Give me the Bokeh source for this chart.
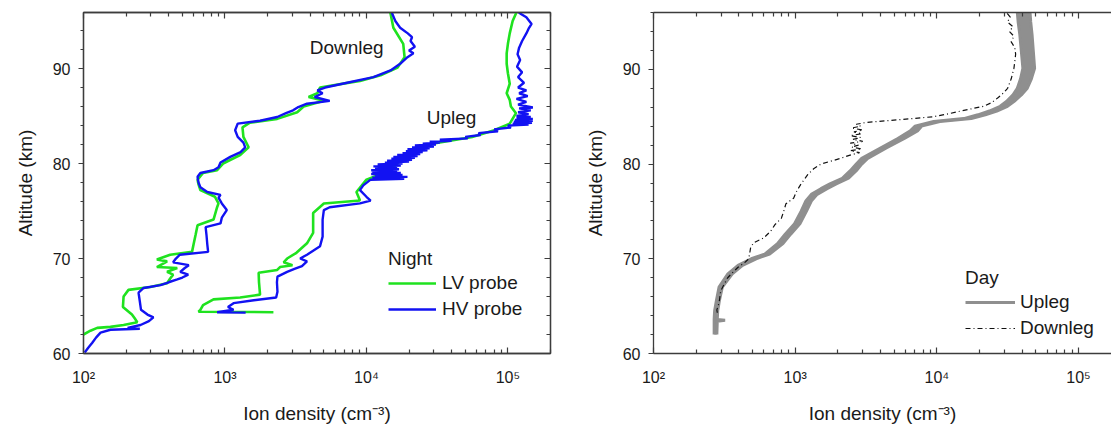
from bokeh.plotting import figure
from bokeh.layouts import row
from bokeh.models import (Range1d, FixedTicker, LogAxis, LinearAxis, CustomJSTickFormatter,
                          Legend, LegendItem, Label, ColumnDataSource)
from bokeh.embed import file_html
from bokeh.resources import INLINE

# ---------------- Night flight (altitude km, ion density cm^-3) ----------------
night_down_hv = [
    (60.1, 102), (60.6, 108), (61.1, 115), (61.7, 123), (62.2, 132), (62.5, 155), (62.6, 250),
    (62.7, 205), (63.0, 253), (63.4, 290), (63.8, 312), (64.1, 283), (64.6, 255), (65.5, 250),
    (66.4, 245), (66.9, 266), (67.2, 350), (67.5, 400), (67.8, 460), (68.0, 500), (68.3, 550),
    (68.6, 483), (69.0, 520), (69.3, 555), (69.6, 430), (70.0, 450), (70.4, 480), (70.7, 760),
    (71.5, 750), (72.5, 740), (73.3, 730), (73.7, 930), (74.3, 950), (75.1, 1030), (75.8, 950),
    (76.4, 900), (76.7, 930), (77.0, 750), (77.5, 670), (78.0, 650), (78.6, 640), (79.0, 670),
    (79.3, 830), (79.6, 900), (80.1, 930), (80.7, 1090), (81.2, 1290), (81.7, 1390), (82.2, 1350),
    (82.8, 1230), (83.5, 1180), (84.2, 1230), (84.5, 1770), (84.9, 2340), (85.3, 2700),
    (85.6, 3030), (85.95, 3300), (86.3, 3800), (86.6, 5500), (87.0, 4300), (87.4, 4900),
    (87.7, 4500), (88.0, 5100), (88.5, 7300), (89.1, 11200), (89.8, 14800), (90.5, 17300),
    (91.2, 19500), (91.6, 21500), (91.9, 20000), (92.3, 22000), (92.9, 20500), (93.3, 21000),
    (93.7, 19600), (94.3, 17300), (95.0, 16000), (95.8, 15200), (96.0, 15000),
]
night_down_lv = [
    (62.0, 100), (62.4, 112), (62.7, 125), (62.8, 155), (63.0, 192), (63.3, 240), (63.7, 230),
    (64.1, 220), (64.9, 190), (66.0, 192), (66.7, 208), (67.0, 297), (67.4, 390), (67.9, 410),
    (68.3, 430), (68.6, 390), (69.0, 460), (69.1, 330), (69.4, 360), (69.7, 390), (69.9, 330),
    (70.4, 410), (70.7, 585), (71.5, 600), (72.5, 620), (73.5, 640), (74.1, 830), (75.4, 880),
    (75.8, 900), (76.5, 850), (77.2, 670), (77.8, 650), (78.3, 640), (79.0, 700), (79.3, 880),
    (80.0, 970), (80.9, 1280), (81.7, 1470), (82.8, 1350), (83.8, 1330), (84.3, 1500),
    (84.7, 2340), (85.4, 3240), (86.0, 3600), (86.6, 5000), (87.0, 3900), (87.4, 4500),
    (88.0, 4700), (88.7, 9000), (89.3, 12600), (90.1, 16600), (91.2, 18600), (92.6, 18200),
    (94.3, 15500), (95.8, 14800), (96.0, 14600),
]
night_up_hv = [
    (64.3, 1400), (64.35, 880), (64.6, 1150), (64.9, 1050), (65.3, 1150), (65.6, 1600),
    (65.9, 2300), (66.5, 2350), (67.5, 2330), (68.1, 2350), (68.6, 2750), (68.9, 3100),
    (69.2, 3500), (69.7, 3800), (70.0, 3400), (70.4, 3800), (71.3, 4700), (72.3, 4900),
    (73.2, 4900), (74.1, 4900), (75.1, 5000), (75.4, 5500), (75.8, 9000), (76.1, 10700),
    (76.5, 10000), (77.2, 9000), (77.7, 9500),
    (78.3, 10700), (78.4, 18500), (78.5, 11000), (78.6, 19500), (78.7, 11500), (78.8, 18000),
    (78.9, 10800), (79.0, 17500), (79.1, 11000), (79.2, 16500), (79.3, 10800), (79.4, 17000),
    (79.5, 11500), (79.6, 16500), (79.7, 11200), (79.8, 17500), (79.9, 12000), (80.0, 18000),
    (80.1, 13500), (80.2, 20000), (80.3, 14000), (80.4, 21000), (80.5, 15000), (80.6, 22000),
    (80.7, 15500), (80.8, 23000), (80.9, 16500), (81.0, 24000), (81.1, 18000), (81.2, 25000),
    (81.3, 19000), (81.4, 27000), (81.5, 19500), (81.6, 28000), (81.7, 21000), (81.8, 30000),
    (81.9, 22000), (82.0, 31000), (82.1, 25000), (82.2, 33000), (82.3, 28000), (82.4, 40000),
    (82.5, 33000), (82.65, 52000), (82.8, 50000), (83.0, 64000), (83.2, 62000), (83.4, 85000),
    (83.6, 80000), (83.8, 105000), (84.0, 100000), (84.1, 140000), (84.2, 108000),
    (84.3, 148000), (84.4, 110000), (84.5, 150000), (84.6, 112000), (84.7, 150000),
    (84.8, 115000), (84.9, 145000), (85.0, 115000), (85.2, 140000), (85.4, 118000),
    (85.6, 145000), (85.8, 120000), (85.9, 150000), (86.2, 118000), (86.5, 135000),
    (86.8, 115000), (87.1, 138000), (87.4, 120000), (87.7, 135000), (88.0, 118000),
    (88.5, 130000), (89.1, 118000), (89.6, 126000), (90.2, 116000), (90.9, 122000),
    (91.5, 117000), (92.2, 120000), (92.9, 126000), (93.7, 135000), (94.2, 140000),
    (94.7, 147000), (95.4, 135000), (95.8, 122000), (96.0, 118000),
]
night_up_lv = [
    (64.35, 2200), (64.4, 650), (64.6, 670), (65.1, 700), (65.7, 830), (65.9, 1280), (66.2, 1770),
    (67.5, 1740), (68.5, 1730), (68.8, 2340), (69.1, 2450), (69.3, 3000), (69.6, 2600),
    (70.0, 2750), (70.6, 3200), (71.6, 3800), (72.7, 4200), (74.8, 4200), (75.8, 5000),
    (76.1, 9000), (77.0, 8500), (78.3, 10000), (79.3, 14800), (80.4, 17500), (81.4, 21500),
    (82.1, 30000), (82.8, 56000), (83.5, 80000), (84.2, 103000), (85.3, 114000), (86.0, 105000),
    (86.7, 103000), (87.4, 98000), (88.4, 103000), (89.5, 100000), (90.5, 98000), (91.6, 98000),
    (92.6, 100000), (93.7, 103000), (95.0, 108000), (95.8, 114000), (96.0, 115000),
]

# ---------------- Day flight ----------------
# upleg: altitude, lower and upper edge of the measured spread
day_up = [
    (62.0, 268, 280), (63.4, 268, 282), (63.5, 268, 320), (63.6, 268, 282), (64.5, 270, 284),
    (65.6, 278, 292), (67.0, 290, 306), (68.4, 335, 360), (69.3, 395, 425), (70.0, 490, 530),
    (70.5, 610, 660), (71.6, 750, 820), (72.6, 850, 930), (73.7, 990, 1080), (75.0, 1100, 1200),
    (76.1, 1190, 1300), (76.8, 1300, 1430), (77.4, 1520, 1680), (77.9, 1760, 1950),
    (78.5, 2150, 2380), (79.3, 2450, 2700), (80.0, 2700, 2950), (80.6, 2950, 3250),
    (81.7, 4000, 4400), (82.7, 5300, 5900), (83.5, 6500, 7300), (84.0, 7000, 7800),
    (84.5, 9500, 10500), (84.8, 15500, 17500), (85.2, 19500, 22000), (85.6, 23500, 26500),
    (86.1, 28000, 31500), (86.6, 31000, 35000), (87.3, 34500, 39500), (88.0, 37000, 43500),
    (89.0, 39000, 46500), (90.1, 40500, 49000), (91.0, 40000, 48500), (91.9, 39500, 48000),
    (93.7, 38500, 47000), (95.0, 37500, 46000), (96.0, 37000, 45500),
]
day_down = [
    (64.3, 282), (64.6, 280), (65.0, 286), (65.6, 292), (66.6, 298), (67.3, 315), (68.0, 334),
    (68.6, 365), (69.1, 395), (69.6, 440), (70.0, 470), (70.6, 478), (71.2, 485), (71.7, 510),
    (72.2, 600), (72.9, 670), (73.6, 720), (74.3, 800), (75.0, 830), (75.8, 860), (76.4, 975),
    (77.2, 1030), (77.9, 1100), (78.9, 1230), (79.5, 1350), (80.0, 1520), (80.6, 2090),
    (81.0, 2500), (81.2, 2850), (81.4, 2450), (81.6, 2950), (81.8, 2500), (82.0, 2800),
    (82.2, 2450), (82.4, 3000), (82.6, 2550), (82.8, 2900), (83.0, 2450), (83.2, 2950),
    (83.4, 2600), (83.6, 3000), (83.8, 2500), (84.0, 2900), (84.2, 2700), (84.4, 3200),
    (84.7, 5600), (85.0, 9500), (85.3, 12000), (85.6, 14800), (86.1, 21400), (86.5, 24500),
    (87.0, 27000), (87.5, 29500), (88.0, 31600), (89.0, 33500), (90.1, 35000), (90.8, 35500),
    (91.6, 36000), (92.3, 35500), (92.9, 33500), (93.5, 35000), (94.0, 32500), (94.5, 34500),
    (95.0, 31500), (95.5, 33000), (96.0, 31000),
]

decades = [1e2, 1e3, 1e4, 1e5]
alt_ticks = [60, 70, 80, 90]

FONT = "Liberation Sans"
AX = "#3c3c3c"
TXT = "#1a1a1a"
GREEN = "#1fe21f"
BLUE = "#1212f2"
GRAY = "#8f8f8f"

minor_decade_ticks = [m * d for d in [1e1] + decades for m in range(2, 10)]
minor_alt_ticks = [a for a in range(56, 100, 2) if a % 10]

pow_fmt = CustomJSTickFormatter(code="""
    const sup = {"1": "\\u00b9", "2": "\\u00b2", "3": "\\u00b3", "4": "\\u2074", "5": "\\u2075", "6": "\\u2076"};
    const e = Math.round(Math.log10(tick));
    return "10" + (sup[String(e)] || String(e));
""")


def cols(pairs):
    return [a for a, n in pairs], [n for a, n in pairs]


def style_axis(ax, inward, labels=True):
    ax.axis_line_color = AX
    ax.axis_line_width = 1.3
    ax.major_tick_line_color = AX
    ax.minor_tick_line_color = AX
    ax.major_tick_line_width = 1.2
    ax.minor_tick_line_width = 1.2
    if inward:
        ax.major_tick_in, ax.major_tick_out = 6, 0
        ax.minor_tick_in, ax.minor_tick_out = 4, 0
    else:
        ax.major_tick_in, ax.major_tick_out = 0, 5
        ax.minor_tick_in, ax.minor_tick_out = 0, 3
    ax.major_label_text_font = FONT
    ax.major_label_text_color = TXT
    ax.axis_label_text_font = FONT
    ax.axis_label_text_color = TXT
    ax.axis_label_text_font_style = "normal"
    ax.axis_label_text_font_size = "19px"
    if labels:
        ax.major_label_text_font_size = "16px"
    else:
        ax.major_label_text_font_size = "6px"
        ax.major_label_text_alpha = 0
        ax.major_label_standoff = 0


def make_fig(width, xmax, ymax, left, right, top, bottom, box):
    p = figure(width=width, height=427, x_axis_type="log",
               x_range=Range1d(1e2, xmax), y_range=Range1d(60, ymax),
               output_backend="svg", toolbar_location=None,
               min_border_left=left, min_border_right=right,
               min_border_top=top, min_border_bottom=bottom)
    p.grid.visible = False
    p.background_fill_color = "white"
    p.border_fill_color = "white"
    p.outline_line_color = AX if box else None
    p.outline_line_width = 1.3

    xt = FixedTicker(ticks=decades, minor_ticks=minor_decade_ticks)
    yt = FixedTicker(ticks=alt_ticks, minor_ticks=minor_alt_ticks)

    xa = p.xaxis[0]
    xa.ticker = xt
    xa.formatter = pow_fmt
    xa.axis_label = "Ion density (cm\u207b\u00b3)"
    style_axis(xa, inward=True)
    xa.major_label_standoff = 15
    xa.axis_label_standoff = 14

    ya = p.yaxis[0]
    ya.ticker = yt
    ya.axis_label = "Altitude (km)"
    style_axis(ya, inward=False)
    ya.major_label_standoff = 8
    ya.axis_label_standoff = 14

    top_ax = LogAxis(ticker=xt)
    style_axis(top_ax, inward=True, labels=False)
    p.add_layout(top_ax, "above")
    if box:
        right_ax = LinearAxis(ticker=yt)
        style_axis(right_ax, inward=True, labels=False)
        p.add_layout(right_ax, "right")
    return p


def legend_style(lg):
    lg.title_text_font = FONT
    lg.title_text_font_size = "19px"
    lg.title_text_font_style = "normal"
    lg.title_text_color = TXT
    lg.title_standoff = 2
    lg.label_text_font = FONT
    lg.label_text_font_size = "19px"
    lg.label_text_color = TXT
    lg.label_height = 22
    lg.glyph_height = 22
    lg.spacing = 4
    lg.padding = 0
    lg.margin = 0
    lg.background_fill_alpha = 0
    lg.border_line_alpha = 0


# ---------------- Left panel: night ----------------
p1 = make_fig(580, 2e5, 95.9, 83, 30, 12, 73, box=True)

a, n = cols(night_down_lv)
g1 = p1.line(n, a, line_color=GREEN, line_width=2.6)
a, n = cols(night_up_lv)
p1.line(n, a, line_color=GREEN, line_width=2.6)
a, n = cols(night_down_hv)
b1 = p1.line(n, a, line_color=BLUE, line_width=2.4)
a, n = cols(night_up_hv)
p1.line(n, a, line_color=BLUE, line_width=2.4)

for txt, xv, yv in [("Downleg", 7250, 92.25), ("Upleg", 40000, 84.8)]:
    p1.add_layout(Label(x=xv, y=yv, text=txt, text_align="center", text_baseline="middle",
                        text_font=FONT, text_font_size="19px", text_color=TXT))

# legend location: (left, bottom) offsets from the frame's lower-left corner
lg1 = Legend(title="Night", items=[LegendItem(label="LV probe", renderers=[g1]),
                                   LegendItem(label="HV probe", renderers=[b1])],
             location=(305, 33), glyph_width=48, label_standoff=6)
legend_style(lg1)
p1.add_layout(lg1, "center")

# ---------------- Right panel: day ----------------
p2 = make_fig(531, 1.71e5, 96, 73, 0, 11, 74, box=False)

up_alt = [r[0] for r in day_up]
up_lo = [r[1] for r in day_up]
up_hi = [r[2] for r in day_up]
src_up = ColumnDataSource(dict(alt=up_alt, lo=up_lo, hi=up_hi))
p2.harea(x1="lo", x2="hi", y="alt", source=src_up, fill_color=GRAY)
p2.line("lo", "alt", source=src_up, line_color=GRAY, line_width=3)
u2 = p2.line("hi", "alt", source=src_up, line_color=GRAY, line_width=3)

a, n = cols(day_down)
d2 = p2.line(n, a, line_color="#111111", line_width=1.2, line_dash="5 3 1 3")

lg2 = Legend(title="Day", items=[LegendItem(label="Upleg", renderers=[u2]),
                                 LegendItem(label="Downleg", renderers=[d2])],
             location=(312, 14), glyph_width=50, label_standoff=5)
legend_style(lg2)
p2.add_layout(lg2, "center")

layout = row(p1, p2)
open("out.html", "w").write(file_html(layout, INLINE))
